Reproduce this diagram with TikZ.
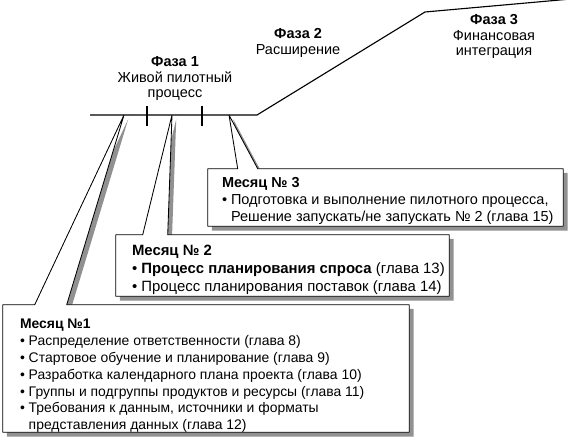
\documentclass[tikz,border=0pt]{standalone}
\usepackage{fontspec}
\setmainfont{Liberation Sans}
\usetikzlibrary{positioning, fit, shadows}
\definecolor{ShadowGray}{RGB}{145,145,145}

\begin{document}
\begin{tikzpicture}[x=0.025cm, y=-0.025cm,
    phase/.style={align=center, inner sep=0pt, anchor=north,
                  font=\fontsize{10.3}{11.2}\selectfont},
    frame/.style={inner sep=0pt},
    txt/.style={align=left, inner sep=0pt, anchor=north west,
                font=\fontsize{9.9}{12}\selectfont},
    callout/.style={fill=white, draw=black, line width=0.6pt, line join=round,
                    drop shadow={shadow xshift=3pt, shadow yshift=-3pt,
                                 fill=ShadowGray, opacity=1}},
    tline/.style={line width=0.8pt}
  ]
  \useasboundingbox (0,0) rectangle (571,446);

  % time line with the three phases
  \coordinate (start) at (90,115);
  \coordinate (bend1) at (257,115);
  \coordinate (bend2) at (425,12);
  \coordinate (stop) at (571,-1);
  \draw[tline] (start) -- (bend1) -- (bend2) -- (stop);
  \foreach \x in {147,202}
    \draw[tline] (\x,106) -- (\x,126);

  \node[phase] (ph1) at (175,56) {\textbf{Фаза 1}\\Живой пилотный\\процесс};
  \node[phase] (ph2) at (298,28) {\textbf{Фаза 2}\\Расширение};
  \node[phase] (ph3) at (494,14) {\textbf{Фаза 3}\\Финансовая\\интеграция};

  % points on the time line
  \coordinate (p1) at (124,115);
  \coordinate (p2) at (172,115);
  \coordinate (p3) at (229,115);

  % month boxes
  \node[frame, fit={(208,169) (563,226)}] (m3) {};
  \node[frame, fit={(116,235) (449,296)}] (m2) {};
  \node[frame, fit={(3,305) (409,432)}] (m1) {};

  \foreach \m/\p/\l/\r in {m3/p3/30/50, m2/p2/27/52, m1/p1/32/64}
    \draw[callout] (\m.north west) -- ([shift={(\l,0)}]\m.north west) -- (\p)
      -- ([shift={(\r,0)}]\m.north west) -- (\m.north east)
      -- (\m.south east) -- (\m.south west) -- cycle;

  \node[txt, font=\fontsize{10.3}{12.1}\selectfont] (t3)
    at ([shift={(14,8)}]m3.north west)
    {\textbf{Месяц № 3}\\
     • Подготовка и выполнение пилотного процесса,\\
     \phantom{• }Решение запускать/не запускать № 2 (глава 15)};
  \node[txt, font=\fontsize{10.6}{12.8}\selectfont] (t2)
    at ([shift={(16,10)}]m2.north west)
    {\textbf{Месяц № 2}\\
     • \textbf{Процесс планирования спроса} (глава 13)\\
     • Процесс планирования поставок (глава 14)};
  \node[txt] (t1) at ([shift={(17,14)}]m1.north west)
    {\textbf{Месяц №1}\\
     • Распределение ответственности (глава 8)\\
     • Стартовое обучение и планирование (глава 9)\\
     • Разработка календарного плана проекта (глава 10)\\
     • Группы и подгруппы продуктов и ресурсы (глава 11)\\
     • Требования к данным, источники и форматы\\
     \phantom{• }представления данных (глава 12)};
\end{tikzpicture}
\end{document}
